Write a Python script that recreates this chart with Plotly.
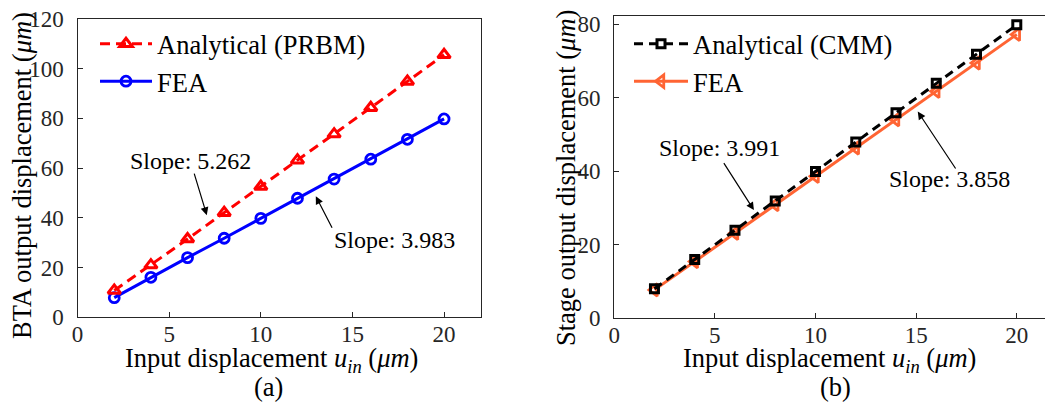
import plotly.graph_objects as go

# ---------------- data ----------------
x_in = [2, 4, 6, 8, 10, 12, 14, 16, 18, 20]
bta_prbm = [10.8, 21.0, 31.5, 42.1, 52.6, 63.2, 73.7, 84.3, 94.9, 105.6]
bta_fea = [7.9, 16.1, 24.0, 31.8, 39.8, 47.9, 55.6, 63.6, 71.6, 79.8]
stage_cmm = [8.0, 16.0, 23.9, 31.9, 39.9, 47.9, 55.9, 63.9, 71.8, 79.8]
stage_fea = [7.7, 15.4, 23.1, 30.9, 38.6, 46.3, 54.0, 61.7, 69.4, 77.2]
x_ticks = [0, 5, 10, 15, 20]
y_ticks_a = [0, 20, 40, 60, 80, 100, 120]
y_ticks_b = [0, 20, 40, 60, 80]

FONT = "Liberation Serif"
AX = "#262626"
W, H = 1053, 409
OFF = 8  # page body margin offset of the figure in the browser window

fig = go.Figure()

# left panel (a) - FEA first so Analytical is drawn on top
fig.add_trace(go.Scatter(
    x=x_in, y=bta_fea, name="FEA", mode="lines+markers",
    line=dict(color="#0000FF", width=3),
    marker=dict(symbol="circle-open", size=10, color="#0000FF", line=dict(width=2.8, color="#0000FF")),
    xaxis="x", yaxis="y", legend="legend"))
fig.add_trace(go.Scatter(
    x=x_in, y=bta_prbm, name="Analytical (PRBM)", mode="lines+markers",
    line=dict(color="#FF0000", width=3, dash="10px,6px"),
    marker=dict(symbol="triangle-up-open", size=11, color="#FF0000", line=dict(width=3, color="#FF0000")),
    xaxis="x", yaxis="y", legend="legend"))

# right panel (b)
fig.add_trace(go.Scatter(
    x=x_in, y=stage_fea, name="FEA", mode="lines+markers",
    line=dict(color="#FF6433", width=3),
    marker=dict(symbol="triangle-left-open", size=11, color="#FF6433", line=dict(width=2.8, color="#FF6433")),
    xaxis="x2", yaxis="y2", legend="legend2"))
fig.add_trace(go.Scatter(
    x=x_in, y=stage_cmm, name="Analytical (CMM)", mode="lines+markers",
    line=dict(color="#000000", width=3, dash="9px,6px"),
    marker=dict(symbol="square-open", size=8, color="#000000", line=dict(width=3, color="#000000")),
    xaxis="x2", yaxis="y2", legend="legend2"))

def px2paper_x(p):
    return (p - OFF) / W

def px2paper_y(p):
    return 1 - (p - OFF) / H

axis_common = dict(
    showline=True, linecolor=AX, linewidth=1.3, mirror=True,
    ticks="inside", ticklen=5, tickwidth=1.2, tickcolor=AX,
    showgrid=False, zeroline=False, automargin=False,
    ticklabeloverflow="allow",
    tickfont=dict(family=FONT, size=23, color=AX),
)

fig.update_layout(
    template="none",
    width=W, height=H,
    margin=dict(l=0, r=0, t=0, b=0, pad=0),
    paper_bgcolor="white", plot_bgcolor="white",
    font=dict(family=FONT, color="#000000"),
    xaxis=dict(domain=[px2paper_x(77.6), px2paper_x(480.7)], range=[0, 22], tickvals=x_ticks,
               anchor="y", ticklabelstandoff=-4, **axis_common),
    yaxis=dict(domain=[px2paper_y(317.3), px2paper_y(19)], range=[0, 120], tickvals=y_ticks_a,
               anchor="x", ticklabelstandoff=8, **axis_common),
    xaxis2=dict(domain=[px2paper_x(614.2), px2paper_x(1049)], range=[0, 21.6], tickvals=x_ticks,
                anchor="y2", ticklabelstandoff=-4, **axis_common),
    yaxis2=dict(domain=[px2paper_y(318.2), px2paper_y(16)], range=[0, 82.2], tickvals=y_ticks_b,
                anchor="x2", ticklabelstandoff=8, **axis_common),
    legend=dict(x=px2paper_x(95), y=px2paper_y(20), xanchor="left", yanchor="top",
                traceorder="reversed", itemwidth=52, bgcolor="rgba(0,0,0,0)",
                font=dict(family=FONT, size=26.5, color="#000000"), tracegroupgap=0),
    legend2=dict(x=px2paper_x(629), y=px2paper_y(20), xanchor="left", yanchor="top",
                 traceorder="reversed", itemwidth=54, bgcolor="rgba(0,0,0,0)",
                 font=dict(family=FONT, size=26.5, color="#000000"), tracegroupgap=0),
)

ann = []
# axis titles and panel labels
def paper_text(text, xp, yp, size=26.5, angle=0):
    ann.append(dict(text=text, x=px2paper_x(xp), y=px2paper_y(yp), xref="paper", yref="paper",
                    showarrow=False, xanchor="center", yanchor="middle", textangle=angle,
                    font=dict(family=FONT, size=size, color="#000000")))

paper_text("BTA output displacement (<i>μm</i>)", 22, 176, angle=-90)
paper_text("Stage output displacement (<i>μm</i>)", 566, 178, angle=-90)
paper_text("Input displacement <i>u</i><sub><i>in</i></sub> (<i>μm</i>)", 271, 360)
paper_text("Input displacement <i>u</i><sub><i>in</i></sub> (<i>μm</i>)", 829, 360)
paper_text("(a)", 268, 387)
paper_text("(b)", 835, 387)

# slope labels and arrows
def slope(text, tx, ty, tail, head, xr, yr):
    ann.append(dict(text=text, x=tx, y=ty, xref=xr, yref=yr, showarrow=False,
                    xanchor="center", yanchor="middle",
                    font=dict(family=FONT, size=24, color="#000000")))
    ann.append(dict(text="", x=head[0], y=head[1], ax=tail[0], ay=tail[1],
                    xref=xr, yref=yr, axref=xr, ayref=yr, showarrow=True,
                    arrowhead=2, arrowsize=1.3, arrowwidth=1.2, arrowcolor="#000000"))

slope("Slope: 5.262", 6.17, 62.8, (6.34, 58.4), (7.05, 41.1), "x", "y")
slope("Slope: 3.983", 17.27, 31.0, (13.93, 35.4), (13.0, 48.7), "x", "y")
slope("Slope: 3.991", 5.25, 46.4, (5.40, 42.6), (6.94, 29.4), "x2", "y2")
slope("Slope: 3.858", 16.65, 37.9, (17.01, 40.3), (15.08, 56.2), "x2", "y2")

fig.update_layout(annotations=ann)
fig.write_html("out.html")
